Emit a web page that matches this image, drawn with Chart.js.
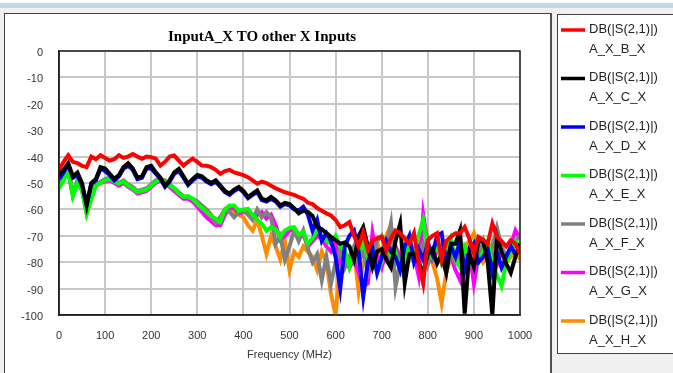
<!DOCTYPE html>
<html>
<head>
<meta charset="utf-8">
<script src="https://cdn.jsdelivr.net/npm/chart.js@4/dist/chart.umd.min.js"></script>
<style>
html, body { margin: 0; padding: 0; background: #f0f0f0; }
</style>
</head>
<body>
<canvas id="sChart" width="673" height="373"></canvas>
<script>
// frequency points (MHz)
const freq = [0,10,20,30,40,50,60,70,80,90,100,110,120,130,140,150,160,170,180,190,200,
  210,220,230,240,250,260,270,280,290,300,310,320,330,340,350,360,370,380,390,400,
  410,420,430,440,450,460,470,480,490,500,510,520,530,540,550,560,570,580,590,600,
  610,620,630,640,650,660,670,680,690,700,710,720,730,740,750,760,770,780,790,800,
  810,820,830,840,850,860,870,880,890,900,910,920,930,940,950,960,970,980,990,1000];

const seriesNames = ["A_X_B_X", "A_X_C_X", "A_X_D_X", "A_X_E_X", "A_X_F_X", "A_X_G_X", "A_X_H_X"];
const seriesColors = ["#ff0000", "#000000", "#0000ff", "#00ff00", "#808080", "#ff00ff", "#ff8c00"];

const xB = [-45,-42,-39.5,-42,-42.5,-43.5,-44,-40,-41,-39.5,-40.5,-41.5,-41,-39.5,-40.5,-40,-39,-40,-40.8,-40,-40.2,
  -40.8,-43.4,-42,-40,-39.6,-41.5,-43.4,-42,-40.8,-42,-43.4,-43.5,-44,-45,-46.5,-45.5,-45,-46,-46.5,-47,
  -47.8,-49,-50.3,-49.5,-50,-51,-52,-52.8,-53.5,-54,-54.5,-55.3,-56,-57.5,-58,-59.5,-60.5,-61.5,-62.3,-64,
  -66.7,-66,-64.8,-70,-74,-68.6,-75.5,-71.7,-71,-70.4,-75.5,-71,-68,-69,-71,-73,-69,-80,-88,-71.7,
  -70,-69,-79,-72,-70.4,-69,-69,-66.7,-71,-76.8,-70.4,-71.5,-73,-65.4,-70.4,-72,-74,-71.7,-73,-76.8];

const xC = [-47,-45,-42.5,-47.5,-46,-50,-58.5,-50,-48.5,-44,-44.5,-46.5,-48.4,-47,-44,-42.5,-44.5,-48,-47.5,-44,-43.5,
  -46,-48,-51,-49,-46,-44.7,-47.5,-50.3,-48.5,-47,-47.5,-49,-50,-49,-51,-53,-54,-52.5,-51.5,-53,
  -55.3,-54,-52.8,-56,-56.5,-55.3,-56.5,-58.5,-57.5,-58,-59.5,-61.5,-60.4,-61,-62.5,-66.7,-67.5,-69,-70.4,-71.7,
  -73,-72.5,-74,-79,-70,-66.7,-74,-81.8,-76,-75,-79,-82,-72,-65.4,-88,-77,-76.8,-80,-84,-77,
  -75,-80.5,-77,-84,-73,-73,-68,-99.5,-76.8,-81.8,-72,-71.7,-80,-100,-70.4,-76,-80.5,-84,-78,-73];

const xD = [-48.5,-46,-43,-48,-47,-51,-58,-50.5,-49,-44.5,-45.5,-47,-49,-47.5,-44.5,-43.5,-45,-48.5,-48,-44.5,-44.5,
  -46.5,-48.5,-51.5,-49.5,-46.5,-45.5,-48,-50.8,-49,-47.5,-48,-49.5,-50.5,-49.5,-51.5,-53.5,-54.5,-53,-52,-53.5,
  -55.8,-54.5,-53.5,-56.5,-57,-56,-57,-59,-58,-58.5,-60,-60.4,-59,-62,-68,-64,-72,-69,-72,-78,
  -90,-74,-70,-68,-76,-93,-80,-75,-84,-78,-72,-76,-78,-83,-74,-70,-80,-75,-79,-73,
  -77,-70,-69,-80,-74,-78,-72,-83,-76,-73,-80,-78,-75,-84,-76,-82,-78,-74,-77,-75];

const xE = [-52,-49,-45,-55,-50,-53,-61.5,-56,-51,-50,-49,-48.5,-49.5,-50.3,-49.5,-51,-52,-53.5,-53,-52.5,-51,
  -49.5,-48.5,-49.5,-51,-52,-54,-55.3,-55,-56,-58,-59.5,-61,-62.5,-63.5,-64.8,-60,-58.5,-58.5,-60.5,-60,
  -59.8,-62,-64,-65.4,-68,-66.7,-67.5,-70.4,-68,-67,-66.7,-69.5,-68.5,-73,-71,-68,-70,-72,-73,-70,
  -74,-75.5,-81.8,-76,-77,-72,-78,-75,-84,-80,-74,-78,-76,-83,-79,-72,-76,-70,-64,-75,
  -78,-73,-80,-76,-71,-79,-82,-74,-77,-73,-80,-76,-72,-80,-85,-89,-80,-76,-72,-74];

const xF = [-51,-48,-45,-54,-49,-52,-61,-55,-50.5,-49.5,-48.5,-48,-49,-50,-49,-50.5,-51.5,-53,-52.5,-52,-50.5,
  -49,-48.5,-49,-50.5,-52,-53.5,-55,-55.5,-56,-57,-58.5,-60,-62,-65,-63,-60,-61,-63,-61,-60.5,
  -62,-64,-60,-63,-61,-63,-73,-70,-79,-74,-68,-72,-68,-75,-80,-77,-86.8,-78,-88,-80,
  -75,-82,-78,-74,-80,-76,-84,-78,-72,-70,-74,-65.4,-89.3,-80,-76,-74,-79,-77,-73,-81,
  -76,-72,-78,-84,-76,-80,-75,-78,-82,-80,-77,-72,-79,-74,-67,-74,-78,-76,-72,-70];

const xG = [-51.5,-48.5,-45.5,-54.5,-49.5,-52.5,-61,-55.5,-51,-50,-49.5,-49,-50,-51,-50,-51.5,-52.5,-54,-53.5,-53,-51.5,
  -50,-49,-50,-51.5,-53,-54.5,-56,-56,-57,-59,-61,-63,-64.5,-66,-66,-62,-59.5,-59.5,-61.5,-61,
  -61,-63,-62,-61,-63.5,-62,-66,-71.5,-70,-68,-67.5,-71,-69.5,-74,-72,-70,-71,-74,-76,-73,
  -80,-78,-82,-79,-84,-89,-88,-69,-78,-82,-76,-80,-74,-78,-81,-75,-77,-85,-62,-73,
  -79,-76,-74,-80,-78,-83,-86.8,-79,-75,-88,-78,-74,-80,-77,-81,-76,-79,-74,-68,-71];

const xH = [-51.5,-48.5,-45.5,-54.5,-49.5,-52.5,-61.5,-55.5,-51,-50,-49,-48.5,-49.5,-50.5,-49.5,-51,-52,-53.5,-53,-52.5,-51,
  -49.5,-48.5,-49.5,-51,-52.5,-54,-55.5,-55.5,-56.5,-58.5,-60,-61.5,-63,-64.5,-63,-60,-59.5,-61,-62,-63,
  -66,-68,-64,-70,-76.8,-70,-74,-79,-72,-83,-76,-78,-74,-76,-78,-83,-76,-80,-92,-100,
  -80,-79,-81.8,-76,-91,-80,-78,-76,-72,-80,-70,-66,-76,-78,-82,-77,-80,-74,-78,-72,
  -80,-86,-95.5,-84,-78,-76,-79,-74,-72,-69,-76,-80,-77,-73,-78,-82,-80,-78,-76,-79];

const seriesValues = [xB, xC, xD, xE, xF, xG, xH];

const labelFont = "Liberation Sans, Arial, sans-serif";

// window frame, boxes, plot border and the two-line legend
const panelPlugin = {
  id: "panels",
  beforeDraw(chart) {
    const ctx = chart.ctx;
    ctx.save();
    ctx.fillStyle = "#f0f0f0";
    ctx.fillRect(0, 0, chart.width, chart.height);
    ctx.fillStyle = "#ffffff";
    ctx.fillRect(0, 0, chart.width, 3);
    ctx.fillStyle = "#c3d6ec";
    ctx.fillRect(0, 3, chart.width, 5);
    // chart box
    ctx.fillStyle = "#ffffff";
    ctx.fillRect(4, 13, 547, 370);
    ctx.strokeStyle = "#404040";
    ctx.lineWidth = 1;
    ctx.strokeRect(4.5, 13.5, 547, 370);
    ctx.fillStyle = "#505050";
    ctx.fillRect(550, 13, 2, 360);
    // legend box
    ctx.fillStyle = "#ffffff";
    ctx.fillRect(557, 14, 130, 339);
    ctx.strokeStyle = "#404040";
    ctx.strokeRect(557.5, 14.5, 130, 339);
    ctx.restore();
  },
  afterDraw(chart) {
    const ctx = chart.ctx;
    const a = chart.chartArea;
    ctx.save();
    ctx.strokeStyle = "#222222";
    ctx.lineWidth = 1.5;
    ctx.strokeRect(a.left, a.top, a.right - a.left, a.bottom - a.top);
    ctx.font = "13px " + labelFont;
    ctx.textBaseline = "middle";
    ctx.fillStyle = "#222222";
    seriesNames.forEach((name, i) => {
      const y = 29 + i * 48.5;
      ctx.strokeStyle = seriesColors[i];
      ctx.lineWidth = 3.5;
      ctx.beginPath();
      ctx.moveTo(561, y + 1);
      ctx.lineTo(585, y + 1);
      ctx.stroke();
      ctx.fillText("DB(|S(2,1)|)", 589, y);
      ctx.fillText(name, 589, y + 20);
    });
    ctx.restore();
  }
};

const datasets = seriesNames.map((name, i) => ({
  label: "DB(|S(2,1)|) " + name,
  data: freq.map((f, k) => ({ x: f, y: seriesValues[i][k] })),
  borderColor: seriesColors[i],
  backgroundColor: seriesColors[i],
  borderWidth: 4,
  pointRadius: 0,
  tension: 0,
  fill: false
}));

new Chart(document.getElementById("sChart").getContext("2d"), {
  type: "line",
  data: { datasets: datasets },
  plugins: [panelPlugin],
  options: {
    responsive: false,
    animation: false,
    layout: { padding: { left: 4, right: 153, top: 0, bottom: 0 } },
    plugins: {
      legend: { display: false },
      tooltip: { enabled: false },
      title: {
        display: true,
        text: "InputA_X TO other X Inputs",
        color: "#000000",
        font: { family: "Liberation Serif, Times New Roman, serif", size: 15, weight: "bold", lineHeight: 1.2 },
        padding: { top: 28, bottom: 5 }
      }
    },
    scales: {
      x: {
        type: "linear",
        min: 0,
        max: 1000,
        afterFit: s => { s.height = 58; },
        ticks: { stepSize: 100, padding: 14, color: "#333333", font: { family: labelFont, size: 11 }, maxRotation: 0,
          callback: v => String(v) },
        grid: { color: "#c8c8c8", lineWidth: 2, drawTicks: false },
        border: { display: true, color: "#222222", width: 1.5 },
        title: { display: true, text: "Frequency (MHz)", color: "#333333", font: { family: labelFont, size: 11 }, padding: { top: 2, bottom: 11 } }
      },
      y: {
        min: -100,
        max: 0,
        afterFit: s => { s.width = 55; },
        ticks: { stepSize: 10, padding: 16, labelOffset: 2, color: "#333333", font: { family: labelFont, size: 11 } },
        grid: { color: "#c8c8c8", lineWidth: 2, drawTicks: false },
        border: { display: true, color: "#222222", width: 1.5 }
      }
    }
  }
});
</script>
</body>
</html>
